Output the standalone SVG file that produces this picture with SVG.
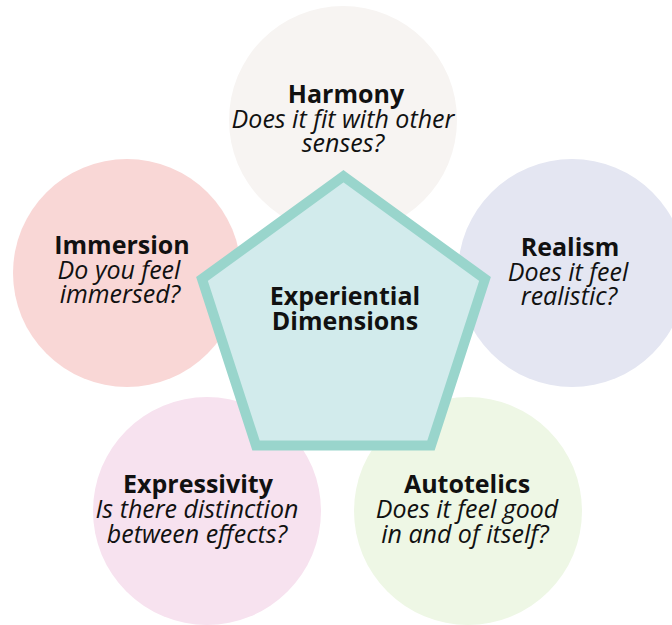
<svg xmlns="http://www.w3.org/2000/svg" width="672" height="625" viewBox="0 0 672 625">
  <style>
    .bubble text { font-family: "Open Sans", "Noto Sans", sans-serif; fill: #111111; text-anchor: middle; font-size: 25px; }
    .title { font-weight: 700; }
    .question { font-style: italic; font-weight: 400; }
    .core { fill: #d2ebec; stroke: #99d5cc; stroke-width: 10; stroke-linejoin: miter; }
  </style>
  <rect width="672" height="625" fill="#ffffff"/>

  <g id="harmony" class="bubble">
    <circle cx="343" cy="120" r="114" fill="#f7f4f2"/>
    <text><tspan class="title" x="346" y="103">Harmony</tspan><tspan class="question" x="343" dy="25">Does it fit with other</tspan><tspan class="question" x="343" dy="24">senses?</tspan></text>
  </g>

  <g id="immersion" class="bubble">
    <circle cx="127" cy="273" r="114" fill="#f9d7d6"/>
    <text><tspan class="title" x="122" y="254">Immersion</tspan><tspan class="question" x="119" dy="25">Do you feel</tspan><tspan class="question" x="120" dy="24">immersed?</tspan></text>
  </g>

  <g id="realism" class="bubble">
    <circle cx="572" cy="273" r="114" fill="#e4e6f2"/>
    <text><tspan class="title" x="570" y="256">Realism</tspan><tspan class="question" x="568" dy="25">Does it feel</tspan><tspan class="question" x="569" dy="24">realistic?</tspan></text>
  </g>

  <g id="expressivity" class="bubble">
    <circle cx="207" cy="511" r="114" fill="#f7e2ef"/>
    <text><tspan class="title" x="198" y="493">Expressivity</tspan><tspan class="question" x="197" dy="25">Is there distinction</tspan><tspan class="question" x="197" dy="25">between effects?</tspan></text>
  </g>

  <g id="autotelics" class="bubble">
    <circle cx="468" cy="511" r="114" fill="#eef7e5"/>
    <text><tspan class="title" x="467" y="493">Autotelics</tspan><tspan class="question" x="467" dy="25">Does it feel good</tspan><tspan class="question" x="465" dy="25">in and of itself?</tspan></text>
  </g>

  <g id="experiential-dimensions" class="bubble">
    <polygon class="core" points="343.5,176.2 485.0,279.0 431.0,445.4 256.0,445.4 202.0,279.0"/>
    <text class="title"><tspan x="345" y="305">Experiential</tspan><tspan x="345" dy="25">Dimensions</tspan></text>
  </g>

  <g id="connectors"></g>
</svg>
